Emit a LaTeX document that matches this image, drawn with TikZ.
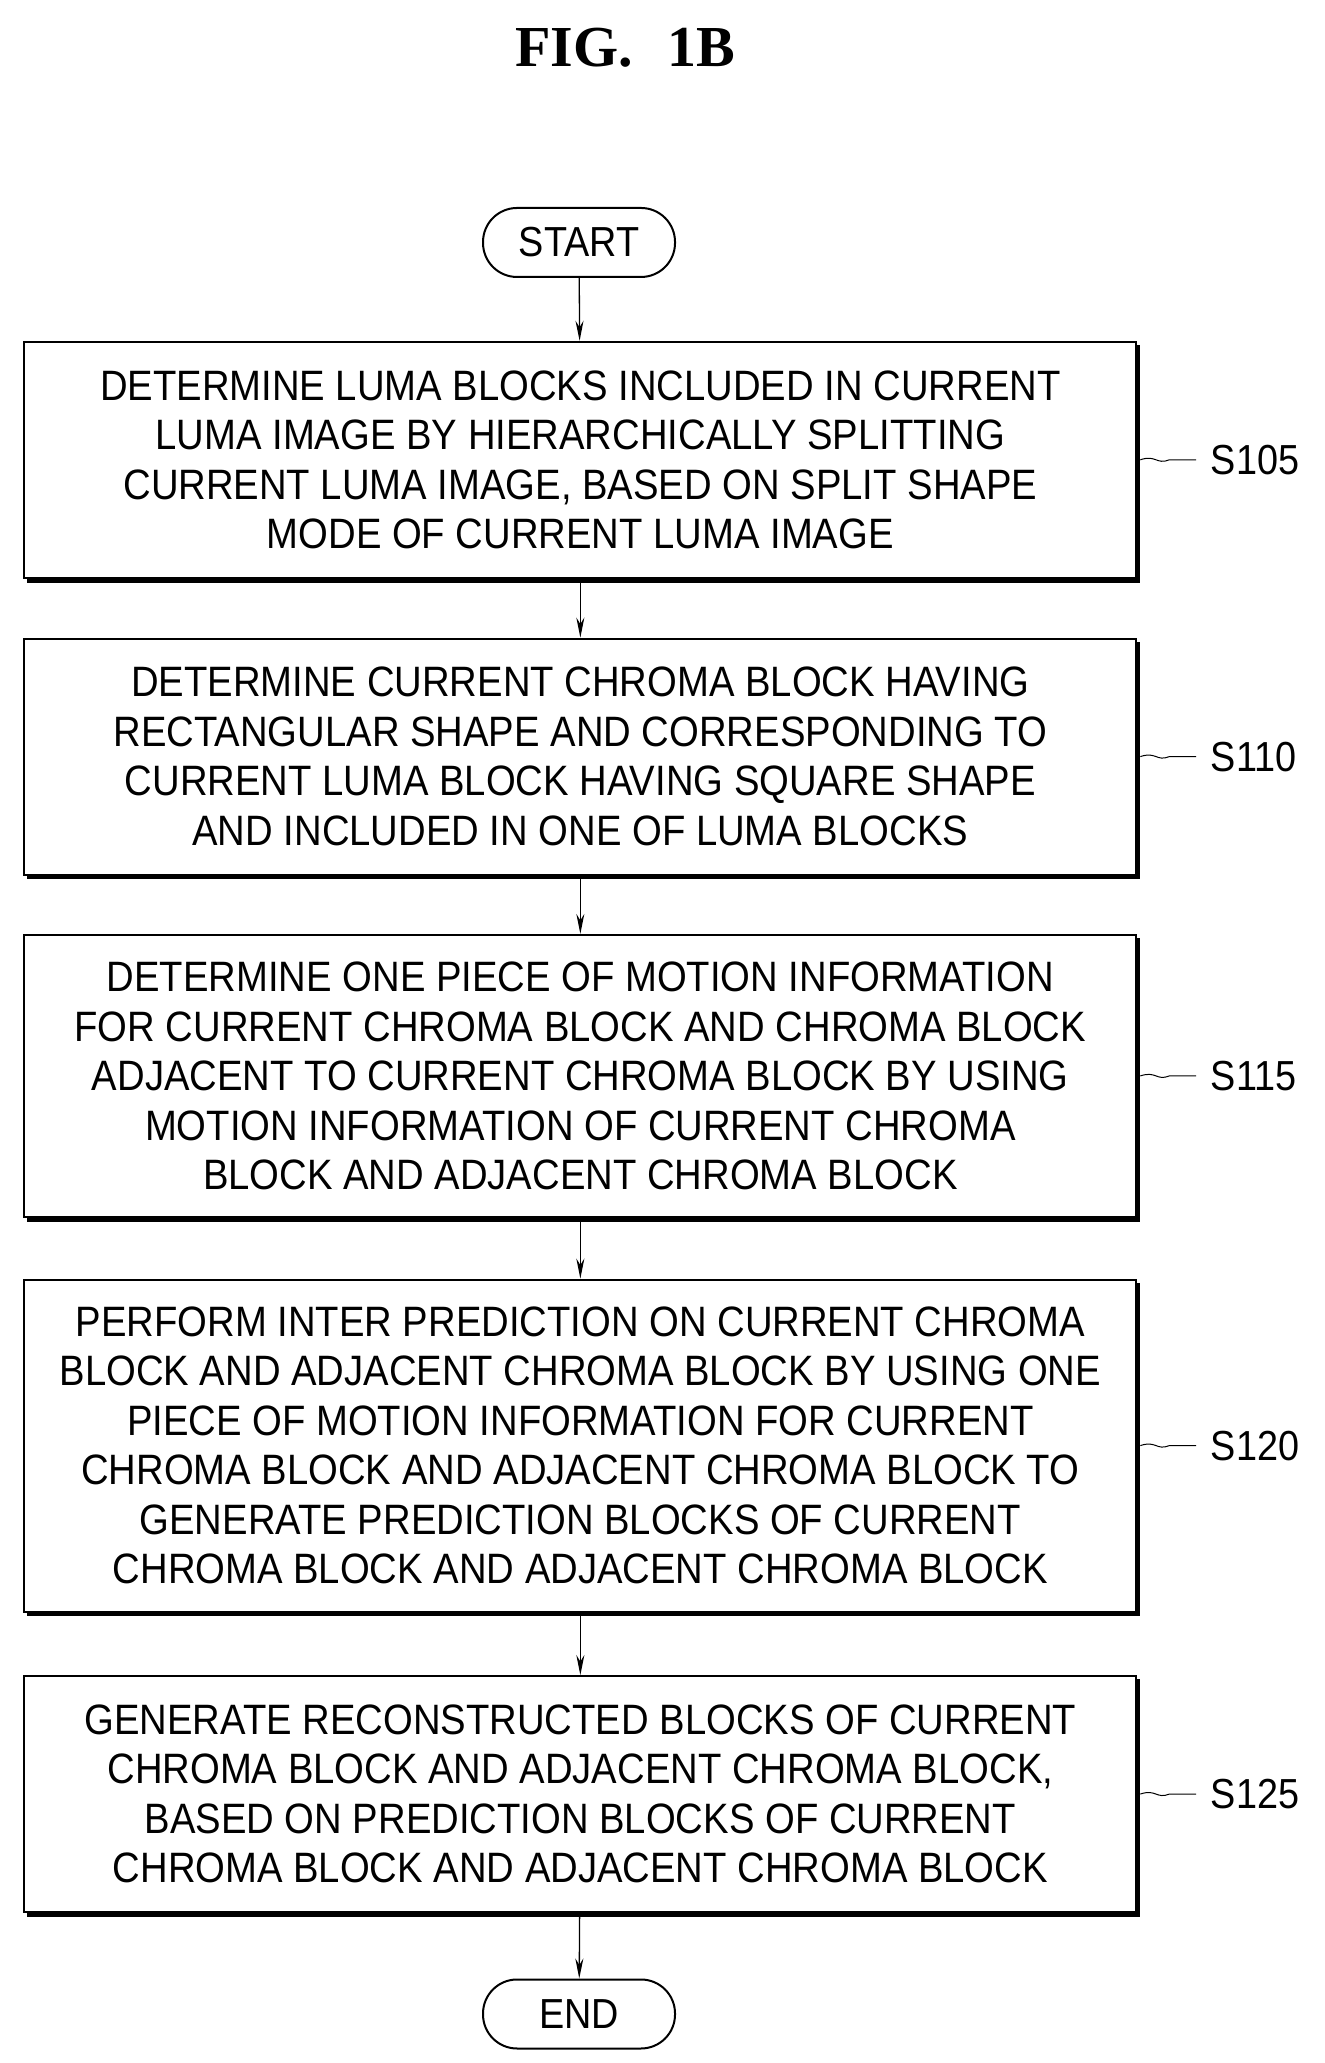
\documentclass[tikz,border=0pt]{standalone}
\usepackage{fontspec}
\setmainfont{Liberation Sans}[FakeStretch=0.9]
\newfontfamily\titlefont{Liberation Serif}
\usetikzlibrary{arrows.meta}
\tikzset{
  stepbox/.style={draw, line width=2pt, align=center, minimum width=1112pt, inner sep=0pt,
    font=\fontsize{42.5}{49.5}\selectfont, fill=white},
  term/.style={draw, line width=2pt, rounded corners=34pt, minimum width=192pt, minimum height=69pt,
    font=\fontsize{42}{49}\selectfont, fill=white},
  flow/.style={line width=1.3pt, -{Stealth[length=20pt,width=8pt]}},
  lbl/.style={font=\fontsize{42}{49}\selectfont, anchor=west},
  lead/.style={line width=1pt}
}
\begin{document}
\begin{tikzpicture}[x=1.325pt,y=-1.325pt]
\useasboundingbox (0,0) rectangle (1000,1557);
\node[font=\titlefont\bfseries\fontsize{58}{60}\selectfont] (title) at (472,36) {FIG.\hspace{0.6em}1B};
\node[term] (start) at (437,183) {START};
\node[term] (end) at (437,1520) {END};
\foreach \n/\y/\h/\t in {
 b1/347/236/{DETERMINE LUMA BLOCKS INCLUDED IN CURRENT\\LUMA IMAGE BY HIERARCHICALLY SPLITTING\\CURRENT LUMA IMAGE, BASED ON SPLIT SHAPE\\MODE OF CURRENT LUMA IMAGE},
 b2/571/236/{DETERMINE CURRENT CHROMA BLOCK HAVING\\RECTANGULAR SHAPE AND CORRESPONDING TO\\CURRENT LUMA BLOCK HAVING SQUARE SHAPE\\AND INCLUDED IN ONE OF LUMA BLOCKS},
 b3/812/282/{DETERMINE ONE PIECE OF MOTION INFORMATION\\FOR CURRENT CHROMA BLOCK AND CHROMA BLOCK\\ADJACENT TO CURRENT CHROMA BLOCK BY USING\\MOTION INFORMATION OF CURRENT CHROMA\\BLOCK AND ADJACENT CHROMA BLOCK},
 b4/1091/332/{PERFORM INTER PREDICTION ON CURRENT CHROMA\\BLOCK AND ADJACENT CHROMA BLOCK BY USING ONE\\PIECE OF MOTION INFORMATION FOR CURRENT\\CHROMA BLOCK AND ADJACENT CHROMA BLOCK TO\\GENERATE PREDICTION BLOCKS OF CURRENT\\CHROMA BLOCK AND ADJACENT CHROMA BLOCK},
 b5/1354/236/{GENERATE RECONSTRUCTED BLOCKS OF CURRENT\\CHROMA BLOCK AND ADJACENT CHROMA BLOCK,\\BASED ON PREDICTION BLOCKS OF CURRENT\\CHROMA BLOCK AND ADJACENT CHROMA BLOCK}}
{
  \fill (440.5,\y) ++(-420,0) ++(0,-\h/2.65+2.5) rectangle ++(420*2,\h/1.325+1.2);
  \node[stepbox, minimum height=\h pt] (\n) at (438,\y) {\t};
}
\foreach \n/\s in {b1/S105,b2/S110,b3/S115,b4/S120,b5/S125}{
  \draw[lead] ([xshift=3pt]\n.east) .. controls +(12,-4) and +(-10,4) .. ++(22,0) -- ++(20,0);
  \node[lbl] (l\n) at ([xshift=70pt]\n.east) {\s};
}
\draw[flow] (start) -- (b1);
\draw[flow] (b1) -- (b2);
\draw[flow] (b2) -- (b3);
\draw[flow] (b3) -- (b4);
\draw[flow] (b4) -- (b5);
\draw[flow] (b5) -- (end);
\end{tikzpicture}
\end{document}
